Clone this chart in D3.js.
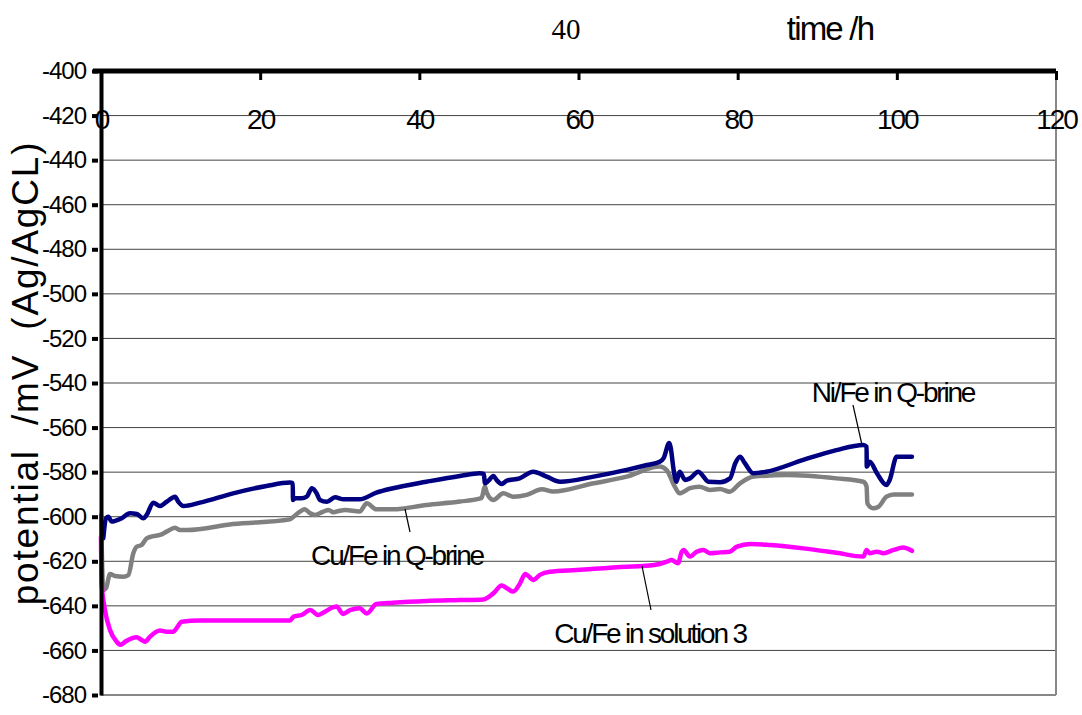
<!DOCTYPE html>
<html>
<head>
<meta charset="utf-8">
<script src="https://cdn.jsdelivr.net/npm/d3@7"></script>
<style>
  body { margin: 0; background: #fff; }
  text { font-family: "Liberation Sans", Arial, sans-serif; }
</style>
</head>
<body>
<div id="chart"></div>
<script>
// time (h) and potential (mV) for each run
var niQbrineX = [0.29,0.63,0.92,1.34,1.76,2.6,3.64,4.48,5.32,5.74,6.57,7.41,8.25,9.3,9.72,10.35,12.44,16.6,20.8,23.75,24.1,24.12,24.4,25.2,25.85,26.5,27.1,27.5,28.4,29.4,30.5,32.5,34.6,36.7,40.9,45.1,47.6,48.1,48.25,48.7,49.3,49.7,50.35,51,52.6,54.3,56,57.7,61.9,66.05,68.6,70.2,70.7,71.4,72.1,72.3,72.7,73.4,74,75.05,75.7,76.3,77.8,79.04,79.7,80.3,80.9,81.97,83.6,88.25,92.4,95.8,96.2,96.22,96.6,97.5,98.7,99.1,99.98,101.9];
var niQbrineY = [-609.7,-600.7,-600,-602.2,-601.9,-600.7,-598.5,-598.8,-600.7,-599.2,-593.7,-595.2,-593.3,-591,-593.3,-595.2,-593.7,-589.5,-586.2,-584.7,-585,-592.5,-591.7,-591.7,-591,-587.2,-589.5,-592.5,-593.3,-591.3,-592.2,-592.2,-589.2,-587.2,-584.3,-581.7,-580.5,-580.8,-585,-583.8,-581.7,-583.5,-585.3,-583.8,-582.8,-579.8,-582,-584.3,-582,-579,-576.8,-575.3,-573.7,-566.9,-582,-584.3,-579.8,-583.5,-582.8,-579.8,-582,-584.3,-584.5,-582.8,-576,-573.1,-576,-580.5,-579.8,-574.5,-570.1,-567.8,-568.6,-577.5,-575.3,-580.5,-585.8,-583.5,-573.1,-573.1];

var cuQbrineX = [0.01,0.29,0.63,1.13,1.76,2.8,3.43,4.06,4.48,5.1,5.74,6.57,7.41,8.25,9.3,9.92,10.76,16.6,23.75,24.2,25,25.6,26.3,26.9,27.95,28.6,29.2,30,30.7,32.5,33.4,34.6,36.7,40.9,45.1,47.8,48.25,48.5,49.3,50.55,51.8,53.5,55.4,56.8,61.9,66.05,70.2,71.05,72.1,72.7,74,75.2,76.5,77.8,79,80.3,82,86.2,92.4,95.8,96.2,96.3,97,97.7,98.7,99.6,101.9];
var cuQbrineY = [-599.2,-632.9,-632.1,-625.7,-626.6,-626.9,-626.2,-616.4,-613.5,-612.7,-609.7,-608.7,-608.2,-606.7,-605,-606,-606,-603.3,-601.2,-600,-597.7,-596.7,-598.5,-599.2,-597.7,-597,-598,-597.3,-597,-597.7,-594,-596.7,-596.7,-594.7,-593.2,-591.7,-586.5,-589.5,-592.5,-589.5,-591,-590.2,-587.7,-588.7,-585,-582,-577.5,-579,-586.5,-589.5,-587.2,-586.5,-588,-587.6,-588.8,-585,-582,-581.3,-582.8,-584.3,-586.5,-594,-596.2,-595.5,-591,-590,-590];

var cuSol3X = [0,0.08,0.5,1.13,1.97,2.47,3.02,3.85,4.48,5.1,5.53,6.16,7.4,8.25,9.1,9.5,10.14,12.44,16.6,23.75,24.2,25.2,26.3,27.3,28.15,29.2,29.6,30.4,31.3,32.5,33.4,34.6,36.7,40.9,45.1,48.05,49.3,50.35,51,51.8,52.65,53.3,53.7,54.3,55.15,56.4,59.8,66.05,68.1,70.2,71.1,71.7,72.5,72.98,73.2,74,74.85,75.7,76.5,77.8,79,79.9,81.6,84.1,88.25,92.4,95.8,96.2,96.6,97.5,98.3,99.6,100.8,101.9];
var cuSol3Y = [-609,-629.9,-641.9,-650.8,-656.1,-657.5,-656.1,-654.6,-654.1,-655.3,-656.1,-653.8,-651.1,-651.6,-651.6,-650,-647.1,-646.6,-646.6,-646.6,-644.8,-644.1,-641.9,-644.1,-642.6,-640.6,-640.3,-643.6,-641.9,-641.1,-643.4,-639.2,-638.6,-637.8,-637.4,-637.1,-634.4,-630.9,-632.1,-633.6,-629.9,-625.7,-626.6,-628.4,-626.1,-624.7,-623.9,-622.4,-622.1,-621.2,-620.2,-619.4,-620.9,-615.7,-614.9,-617.9,-615.7,-614.9,-616.4,-616,-615.7,-613.4,-612.2,-612.7,-614.2,-616.2,-617.9,-614.9,-616.4,-615.7,-616.4,-614.9,-613.8,-615.3];

var seriesNames = ["Ni/Fe in Q-brine", "Cu/Fe in Q-brine", "Cu/Fe in solution 3"];
var seriesColors = ["#000080", "#808080", "#ff00ff"];
var xTicks = [0, 20, 40, 60, 80, 100, 120];
var yTicks = [-400,-420,-440,-460,-480,-500,-520,-540,-560,-580,-600,-620,-640,-660,-680];

var W = 1082, H = 715;
var plotL = 101, plotR = 1056, plotT = 71, plotB = 695;

var svg = d3.select('#chart').append('svg')
  .attr('width', W)
  .attr('height', H);

var x = d3.scaleLinear().domain([0, 120]).range([plotL, plotR]);
var y = d3.scaleLinear().domain([-400, -680]).range([plotT, plotB]);

// gridlines
svg.append('g').selectAll('line')
  .data(yTicks.slice(1, -1))
  .enter().append('line')
  .attr('x1', plotL).attr('x2', plotR)
  .attr('y1', function(d) { return y(d); })
  .attr('y2', function(d) { return y(d); })
  .attr('stroke', '#444')
  .attr('stroke-width', 1);

// right and bottom frame
svg.append('line')
  .attr('x1', plotR).attr('x2', plotR).attr('y1', plotT).attr('y2', plotB)
  .attr('stroke', '#888').attr('stroke-width', 2);
svg.append('line')
  .attr('x1', plotL).attr('x2', plotR).attr('y1', plotB).attr('y2', plotB)
  .attr('stroke', '#888').attr('stroke-width', 2);

// lines
var runs = [
  { x: niQbrineX, y: niQbrineY },
  { x: cuQbrineX, y: cuQbrineY },
  { x: cuSol3X, y: cuSol3Y }
];
var line = d3.line()
  .x(function(d) { return x(d[0]); })
  .y(function(d) { return y(d[1]); })
  .curve(d3.curveMonotoneX);

[1, 0, 2].forEach(function(i) {
  var pts = runs[i].x.map(function(v, k) { return [v, runs[i].y[k]]; });
  svg.append('path')
    .datum(pts)
    .attr('d', line)
    .attr('fill', 'none')
    .attr('stroke', seriesColors[i])
    .attr('stroke-width', 4.5)
    .attr('stroke-linejoin', 'round')
    .attr('stroke-linecap', 'round');
});

// y axis
var yAxis = d3.axisLeft(y).tickValues(yTicks).tickSize(9).tickPadding(6).tickSizeOuter(0)
  .tickFormat(function(d) { return String(d); });
var yG = svg.append('g')
  .attr('transform', 'translate(' + plotL + ',0)')
  .call(yAxis);
yG.select('.domain').attr('stroke', '#000').attr('stroke-width', 4);
yG.selectAll('.tick line').attr('stroke', '#000').attr('stroke-width', 4).attr('x1', -3);
yG.selectAll('.tick text')
  .style('font-family', '"Liberation Sans", Arial, sans-serif')
  .style('font-size', '24px')
  .style('letter-spacing', '-1px')
  .attr('fill', '#000');

// x axis along top
var xAxis = d3.axisBottom(x).tickValues(xTicks).tickSize(9).tickPadding(29).tickSizeOuter(0)
  .tickFormat(function(d) { return String(d); });
var xG = svg.append('g')
  .attr('transform', 'translate(0,' + plotT + ')')
  .call(xAxis);
xG.select('.domain').attr('stroke', '#000').attr('stroke-width', 5)
  .attr('d', 'M' + (plotL - 8) + ',0H' + plotR);
xG.selectAll('.tick line').attr('stroke', '#000').attr('stroke-width', 3);
xG.selectAll('.tick text')
  .style('font-family', '"Liberation Sans", Arial, sans-serif')
  .style('font-size', '28px')
  .style('letter-spacing', '-2px')
  .attr('fill', '#000');

// titles
svg.append('text')
  .attr('x', 566).attr('y', 39)
  .attr('text-anchor', 'middle')
  .style('font-family', '"Liberation Serif", "Times New Roman", serif')
  .style('font-size', '29px')
  .text('40');

svg.append('text')
  .attr('x', 830).attr('y', 40)
  .attr('text-anchor', 'middle')
  .style('font-size', '33px')
  .style('letter-spacing', '-1.8px')
  .text('time /h');

svg.append('text')
  .attr('transform', 'translate(38,373) rotate(-90)')
  .attr('text-anchor', 'middle')
  .style('font-size', '37px')
  .style('letter-spacing', '1.8px')
  .style('white-space', 'pre')
  .text('potential  /mV  (Ag/AgCL)');

// annotations
var notes = [
  { text: seriesNames[0], tx: 893, ty: 402, lx1: 853, ly1: 405, lx2: 862, ly2: 445 },
  { text: seriesNames[1], tx: 397, ty: 565, lx1: 405, ly1: 509, lx2: 410, ly2: 532 },
  { text: seriesNames[2], tx: 650, ty: 643, lx1: 642, ly1: 566, lx2: 651, ly2: 610 }
];
notes.forEach(function(n) {
  svg.append('line')
    .attr('x1', n.lx1).attr('y1', n.ly1).attr('x2', n.lx2).attr('y2', n.ly2)
    .attr('stroke', '#000').attr('stroke-width', 1.2);
  svg.append('text')
    .attr('x', n.tx).attr('y', n.ty)
    .attr('text-anchor', 'middle')
    .style('font-size', '28px')
    .style('letter-spacing', '-2.2px')
    .text(n.text);
});
</script>
</body>
</html>
